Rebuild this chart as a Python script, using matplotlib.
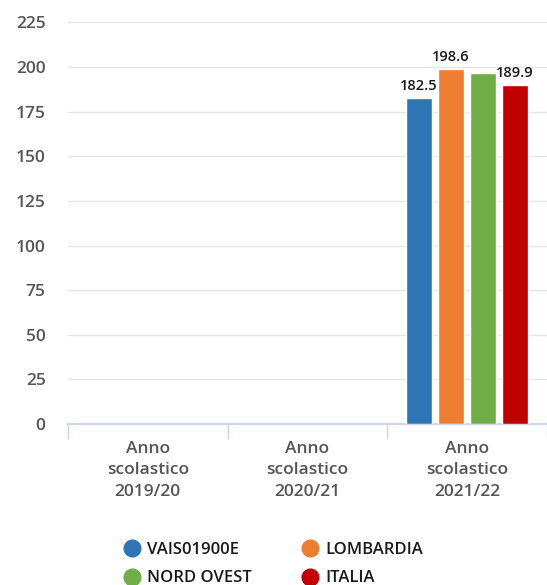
import numpy as np
import matplotlib.pyplot as plt

plt.rcParams['font.family'] = ['Open Sans', 'DejaVu Sans']

categories = ['Anno\nscolastico\n2019/20', 'Anno\nscolastico\n2020/21', 'Anno\nscolastico\n2021/22']
series = ['VAIS01900E', 'LOMBARDIA', 'NORD OVEST', 'ITALIA']
colors = ['#2e75b6', '#ed7d31', '#70ad47', '#c00000']
values = {
    'VAIS01900E': [np.nan, np.nan, 182.5],
    'LOMBARDIA': [np.nan, np.nan, 198.6],
    'NORD OVEST': [np.nan, np.nan, 196.6],
    'ITALIA': [np.nan, np.nan, 189.9],
}
# label of NORD OVEST is hidden in the original (overlap)
show_label = [True, True, False, True]

fig = plt.figure(figsize=(5.47, 5.85), dpi=100)
ax = fig.add_axes([0.124, 0.275, 0.876, 0.687])

x = np.arange(len(categories))
step = 0.2
w = 0.16
for i, s in enumerate(series):
    pos = x + (i - 1.5) * step
    ax.bar(pos, values[s], width=w, color=colors[i], edgecolor='white', linewidth=1, label=s, zorder=3)
    if show_label[i]:
        for p, v in zip(pos, values[s]):
            if not np.isnan(v):
                ax.text(p, v + 3, f'{v:.1f}', ha='center', va='bottom', fontsize=10.5,
                        color='#1a1a1a', fontweight='semibold')

ax.set_xlim(-0.5, 2.5)
ax.set_ylim(0, 225)
ax.set_yticks(np.arange(0, 226, 25))
ax.grid(axis='y', color='#e6e6e6', linewidth=1, zorder=0)
ax.set_xticks(x)
ax.set_xticklabels(categories, fontsize=12.5, color='#555555', linespacing=1.45, fontweight='semibold')
ax.set_xticks([-0.5, 0.5, 1.5, 2.5], minor=True)
ax.tick_params(axis='x', which='major', length=0, pad=12)
ax.tick_params(axis='x', which='minor', length=11, color='#ccd6eb', width=1)
ax.tick_params(axis='y', length=0, labelsize=12.5, labelcolor='#555555', pad=16)
for lab in ax.get_yticklabels():
    lab.set_fontweight('semibold')
for sp in ['top', 'right', 'left']:
    ax.spines[sp].set_visible(False)
ax.spines['bottom'].set_color('#ccd6eb')
ax.spines['bottom'].set_linewidth(1.5)

# matplotlib fills legend columns first; reorder so rows read like the original
order = [0, 2, 1, 3]
handles = [plt.Line2D([], [], marker='o', linestyle='', markersize=12, color=colors[k]) for k in order]
labels = [series[k] for k in order]
fig.legend(handles, labels, loc='lower center', bbox_to_anchor=(0.5, -0.028), ncol=2,
           frameon=False, handletextpad=0.4, columnspacing=3.0,
           labelspacing=0.75, handlelength=1.0, labelcolor='#1a1a1a',
           prop={'weight': 'semibold', 'size': 12})

fig.savefig('out.png', dpi=100)
